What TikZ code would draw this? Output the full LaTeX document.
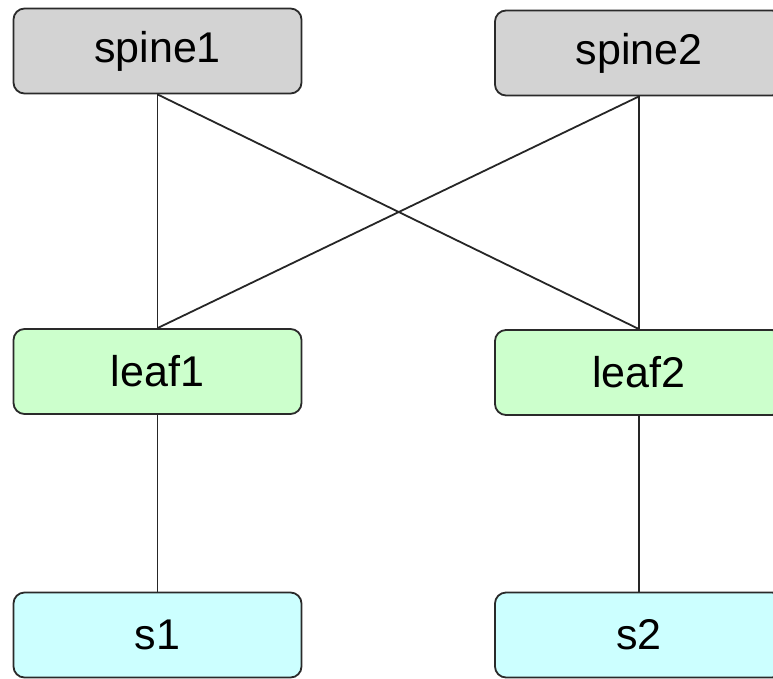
\documentclass[tikz,border=0pt]{standalone}
\usepackage{fontspec}
\setmainfont{Liberation Sans}
\definecolor{spinegray}{HTML}{D3D3D3}
\definecolor{leafgreen}{HTML}{CCFFCC}
\definecolor{servercyan}{HTML}{CCFFFF}
\definecolor{edgegray}{HTML}{2A2A2A}
\begin{document}
\begin{tikzpicture}[x=1pt,y=-1pt,
  box/.style={draw=edgegray,line width=1.8pt,rounded corners=11pt,minimum width=288pt,minimum height=85pt,inner sep=0pt,font=\fontsize{43}{50}\selectfont},
  spinebox/.style={box,fill=spinegray},
  leafbox/.style={box,fill=leafgreen},
  srvbox/.style={box,fill=servercyan},
  link/.style={draw=black!85,line width=1.8pt}]
\useasboundingbox (0,0) rectangle (773,678);
\begin{scope}
\clip (0,0) rectangle (773,678);
\node[spinebox] (spine1) at (157.5,51) {spine1};
\node[spinebox] (spine2) at (639,53) {spine2};
\node[leafbox] (leaf1) at (157.5,371.5) {leaf1};
\node[leafbox] (leaf2) at (639,372.5) {leaf2};
\node[srvbox] (s1) at (157.5,635) {s1};
\node[srvbox] (s2) at (639,635) {s2};
\draw[link] (spine1.south) -- (leaf1.north);
\draw[link] (spine1.south) -- (leaf2.north);
\draw[link] (spine2.south) -- (leaf1.north);
\draw[link] (spine2.south) -- (leaf2.north);
\draw[link] (leaf1.south) -- (s1.north);
\draw[link] (leaf2.south) -- (s2.north);
\end{scope}
\end{tikzpicture}
\end{document}
